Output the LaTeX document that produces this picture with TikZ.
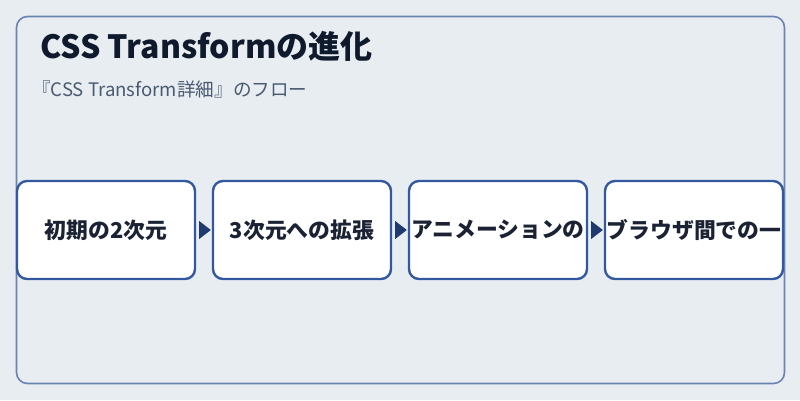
\documentclass[tikz,border=0pt]{standalone}
\usepackage{fontspec}
\setmainfont{Noto Sans CJK JP}
\usetikzlibrary{calc}
\definecolor{bgc}{HTML}{E8EDF2}
\definecolor{outerc}{HTML}{6A83B0}
\definecolor{boxc}{HTML}{3358A0}
\definecolor{arrc}{HTML}{1E3A6F}
\definecolor{titlec}{HTML}{0F1B2D}
\definecolor{subc}{HTML}{4A5A70}
\definecolor{textc}{HTML}{1A2233}
\tikzset{
  stepbox/.style={draw=boxc, line width=2.4pt, fill=white, rounded corners=10pt,
    minimum width=178pt, minimum height=98pt, inner sep=0pt,
    font=\bfseries\fontsize{21.8}{26}\selectfont, text=textc},
  arrowhead/.style={fill=arrc}
}
\begin{document}
\begin{tikzpicture}[x=1pt,y=-1pt]
\fill[bgc] (0,0) rectangle (800,400);
\useasboundingbox (0,0) rectangle (800,400);
\draw[outerc, line width=1.6pt, rounded corners=11pt] (16.5,16.5) rectangle (784.5,383.5);
\node[anchor=base west, inner sep=0pt, text=titlec, font=\bfseries\fontsize{32}{36}\selectfont] (title) at (40,58) {CSS Transformの進化};
\node[anchor=base west, inner sep=0pt, text=subc, font=\fontsize{18.6}{22}\selectfont] (sub) at (32,96) {『CSS Transform詳細』のフロー};
\node[stepbox] (b1) at (106,230) {初期の2次元};
\node[stepbox] (b2) at (302,230) {3次元への拡張};
\node[stepbox] (b3) at (498,230) {アニメーションの};
\node[stepbox] (b4) at (694,230) {ブラウザ間での一};
\foreach \a/\b in {b1/b2,b2/b3,b3/b4}{
  \path[arrowhead] ($(\a.east)+(3,-9)$) -- ($(\b.west)+(-1,0)$) -- ($(\a.east)+(3,9)$) -- cycle;
}
\end{tikzpicture}
\end{document}
